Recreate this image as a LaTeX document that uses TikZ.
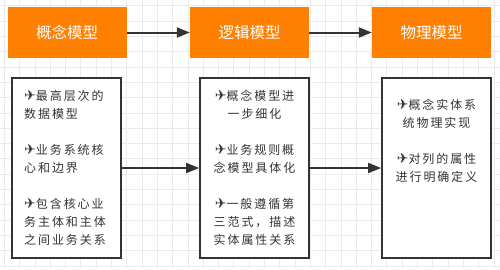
\documentclass[tikz,border=0pt]{standalone}
\usepackage{fontspec}
\usetikzlibrary{arrows.meta}
\newfontfamily\cjk[LetterSpace=16]{Noto Sans CJK SC}
\newfontfamily\cjkhead{Noto Sans CJK SC}
\newfontfamily\plane{DejaVu Sans}
\definecolor{hdr}{HTML}{FF8000}
\definecolor{edgec}{HTML}{333333}
\definecolor{gridc}{HTML}{EBEBEB}
\newcommand{\fly}{{\plane\fontsize{14}{18}\selectfont\char"2708}}

\begin{document}
\begin{tikzpicture}[x=1pt, y=-1pt,
    head/.style={fill=hdr, minimum width=119pt, minimum height=51pt, inner sep=0pt,
      text=white, font=\cjkhead\fontsize{15.5}{18}\selectfont},
    body/.style={draw=edgec, line width=1.8pt, fill=white, minimum width=109pt,
      minimum height=180pt, inner sep=0pt},
    txt/.style={inner sep=0pt, text=edgec, font=\cjk\fontsize{12}{18}\selectfont},
    ed/.style={draw=edgec, line width=2pt, -{Triangle[length=13pt, width=10pt]}},
    gl/.style={draw=gridc, line width=0.8pt}]

  % ── background and grid ──
  \fill[white] (0,0) rectangle (500,269);
  \useasboundingbox (0,0) rectangle (500,269);
  \foreach \i in {0,...,32} \draw[gl] ({4.3+15.3*\i},0) -- ({4.3+15.3*\i},269);
  \foreach \j in {0,...,17} \draw[gl] (0,{5.8+15.3*\j}) -- (500,{5.8+15.3*\j});

  % ── headers ──
  \node[head] (h1) at (67,32.5)    {概念模型};
  \node[head] (h2) at (249.5,32.5) {逻辑模型};
  \node[head] (h3) at (431.5,32.5) {物理模型};
  \draw[ed] (h1) -- (h2); \draw[ed] (h2) -- (h3);

  % ── bodies ──
  \node[body] (b1) at (66.5,168)  {};
  \node[body] (b2) at (254.5,168) {};
  \node[body] (b3) at (436.5,168) {};
  \draw[ed] (b1) -- (b2); \draw[ed] (b2) -- (b3);

  \node[txt, anchor=north west, align=left] (t1) at (24,90)
    {\fly{}最高层次的\\数据模型\\[18pt]\fly{}业务系统核\\心和边界\\[18pt]\fly{}包含核心业\\务主体和主体\\之间业务关系};
  \node[txt, anchor=north, align=center] (t2) at (254.5,90)
    {\fly{}概念模型进\\一步细化\\[18pt]\fly{}业务规则概\\念模型具体化\\[18pt]\fly{}一般遵循第\\三范式，描述\\实体属性关系};
  \node[txt, anchor=north, align=center] (t3) at (436.5,99)
    {\fly{}概念实体系\\统物理实现\\[18pt]\fly{}对列的属性\\进行明确定义};
\end{tikzpicture}
\end{document}
